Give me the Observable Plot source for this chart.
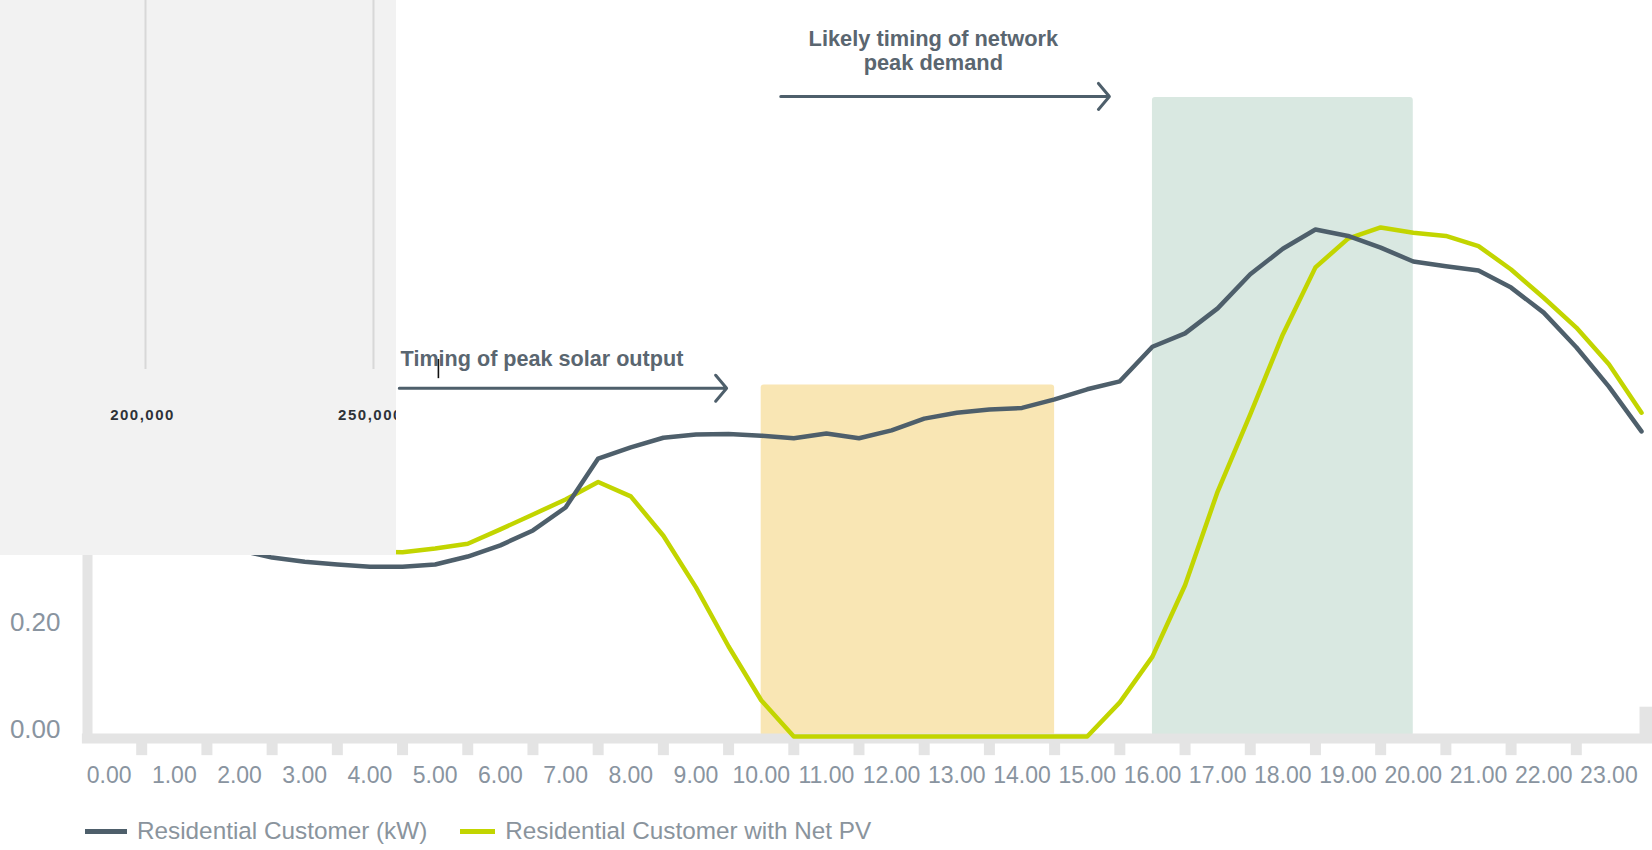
<!DOCTYPE html>
<html>
<head>
<meta charset="utf-8">
<script src="https://cdn.jsdelivr.net/npm/d3@7"></script>
<script src="https://cdn.jsdelivr.net/npm/@observablehq/plot@0.6"></script>
<style>
  body { margin: 0; background: #ffffff; }
  #wrap { position: relative; width: 1652px; height: 850px; overflow: hidden; font-family: "Liberation Sans", Arial, sans-serif; }
  #main { position: absolute; left: 0; top: 0; }
  #panel { position: absolute; left: 0; top: 0; }
  #legend { position: absolute; left: 85px; top: 817px; display: flex; align-items: center; font-size: 24.3px; color: #8a949d; white-space: nowrap; }
  #legend .sw { display: inline-block; height: 5px; margin-right: 10px; }
</style>
</head>
<body>
<div id="wrap">
  <div id="main"></div>
  <div id="legend"></div>
  <div id="panel"></div>
</div>
<script>
// Time of day, half-hourly (hours)
const hours = [0, 0.5, 1, 1.5, 2, 2.5, 3, 3.5, 4, 4.5, 5, 5.5, 6, 6.5, 7, 7.5, 8, 8.5, 9, 9.5,
  10, 10.5, 11, 11.5, 12, 12.5, 13, 13.5, 14, 14.5, 15, 15.5, 16, 16.5, 17, 17.5, 18, 18.5, 19, 19.5,
  20, 20.5, 21, 21.5, 22, 22.5, 23, 23.5, 24];

// Average residential demand (kW)
const residential = [0.52, 0.47, 0.43, 0.40, 0.372, 0.35, 0.336, 0.328, 0.323, 0.319, 0.319, 0.323,
  0.338, 0.359, 0.387, 0.430, 0.522, 0.543, 0.561, 0.567, 0.568, 0.565, 0.560, 0.569, 0.560, 0.575,
  0.597, 0.608, 0.614, 0.617, 0.633, 0.652, 0.667, 0.732, 0.757, 0.804, 0.868, 0.916, 0.952, 0.940,
  0.918, 0.892, 0.883, 0.875, 0.843, 0.796, 0.731, 0.657, 0.573];

// Residential customer demand net of rooftop PV (kW)
const residentialNetPV = [0.55, 0.50, 0.46, 0.43, 0.405, 0.385, 0.37, 0.36, 0.352, 0.347, 0.346, 0.353,
  0.362, 0.389, 0.417, 0.445, 0.478, 0.451, 0.377, 0.280, 0.169, 0.068, 0, 0, 0, 0,
  0, 0, 0, 0, 0, 0, 0.064, 0.150, 0.284, 0.460, 0.605, 0.755, 0.881, 0.935,
  0.956, 0.946, 0.940, 0.921, 0.877, 0.824, 0.768, 0.699, 0.608];

// Category labels shown under each hour
const hourLabels = ["0.00", "1.00", "2.00", "3.00", "4.00", "5.00", "6.00", "7.00", "8.00", "9.00",
  "10.00", "11.00", "12.00", "13.00", "14.00", "15.00", "16.00", "17.00", "18.00", "19.00",
  "20.00", "21.00", "22.00", "23.00"];

const yTicks = [0, 0.2, 0.4, 0.6, 0.8, 1.0, 1.2];

// Highlighted periods
const shadeNames = ["Peak solar output", "Network peak demand"];
const shadeStart = [10.5, 16.5];
const shadeEnd = [15.0, 20.5];
const shadeTop = [0.66, 1.2];
const shadeColors = ["#f9e6b4", "#d9e8e1"];

// Annotation arrows and their captions
const arrowStart = [4.95, 10.8];
const arrowEnd = [9.97, 15.84];
const arrowLevel = [0.654, 1.202];
const solarNote = "Timing of peak solar output";
const networkNote = "Likely timing of network\npeak demand";
const noteHour = [4.97, 13.14];
const noteLevel = [0.708, 1.289];

// Overlaid panel axis values
const panelTicks = [200000, 250000];

const seriesNames = ["Residential Customer (kW)", "Residential Customer with Net PV"];
const seriesColors = ["#4e5f6b", "#c2d500"];

const slate = "#4e5f6b";
const axisGrey = "#e4e4e4";
const labelGrey = "#8994a0";
const fontStack = "'Liberation Sans', Arial, sans-serif";

const demand = hours.map((h, i) => ({hour: h, value: residential[i]}));
const netDemand = hours.map((h, i) => ({hour: h, value: residentialNetPV[i]}));
const shades = shadeNames.map((n, i) => ({name: n, start: shadeStart[i], end: shadeEnd[i], top: shadeTop[i], color: shadeColors[i]}));
const arrows = arrowStart.map((s, i) => ({x1: s, x2: arrowEnd[i], y: arrowLevel[i]}));
const boundaries = d3.range(1, 24);
const labelPositions = hourLabels.map((_, i) => i + 0.5);

const chart = Plot.plot({
  width: 1652,
  height: 800,
  marginLeft: 76,
  marginRight: 11,
  marginTop: 97,
  marginBottom: 64,
  style: {fontFamily: fontStack, background: "transparent", overflow: "visible"},
  x: {type: "linear", domain: [0, 24]},
  y: {domain: [0, 1.2]},
  marks: [
    Plot.rect(shades, {x1: "start", x2: "end", y1: 0, y2: "top", fill: "color", rx: 3}),
    // axis lines and category ticks
    Plot.ruleX([0], {y1: 0, y2: 1.2, stroke: axisGrey, strokeWidth: 10, dx: 11}),
    Plot.ruleX(boundaries, {y1: 0, y2: -0.036, stroke: axisGrey, strokeWidth: 11}),
    Plot.ruleX([24], {y1: -0.004, y2: 0.055, stroke: axisGrey, strokeWidth: 13, dx: 4.5}),
    Plot.ruleY([0], {x1: 0.09, x2: 24.17, stroke: axisGrey, strokeWidth: 10, dy: 2}),
    // tick labels
    Plot.axisX(labelPositions, {tickSize: 0, tickPadding: 30, tickFormat: d => hourLabels[Math.floor(d)], fontSize: 23, color: labelGrey}),
    Plot.axisY(yTicks, {tickSize: 0, tickPadding: 16, tickFormat: d3.format(".2f"), fontSize: 26, color: labelGrey, dy: -7}),
    // demand series
    Plot.line(netDemand, {x: "hour", y: "value", stroke: seriesColors[1], strokeWidth: 4.5}),
    Plot.line(demand, {x: "hour", y: "value", stroke: seriesColors[0], strokeWidth: 4.5}),
    // annotations
    Plot.arrow(arrows, {x1: "x1", x2: "x2", y1: "y", y2: "y", stroke: slate, strokeWidth: 3, headLength: 8.5, headAngle: 100}),
    Plot.text([solarNote], {x: noteHour[0], y: noteLevel[0], text: d => d, textAnchor: "start", lineAnchor: "middle", fontSize: 21.6, fontWeight: "bold", fill: "#5a6670"}),
    Plot.text([networkNote], {x: noteHour[1], y: noteLevel[1], text: d => d, textAnchor: "middle", lineAnchor: "middle", fontSize: 21.8, fontWeight: "bold", fill: "#5a6670", lineHeight: 1.13}),
    // text caret left in the caption
    Plot.ruleX([5.55], {y1: 0.672, y2: 0.708, stroke: "#111", strokeWidth: 1.6})
  ]
});
document.getElementById("main").appendChild(chart);

// Legend
const legend = document.getElementById("legend");
seriesNames.forEach((name, i) => {
  const item = document.createElement("span");
  item.style.display = "inline-flex";
  item.style.alignItems = "center";
  item.style.marginRight = i === 0 ? "33px" : "0";
  const sw = document.createElement("span");
  sw.className = "sw";
  sw.style.width = i === 0 ? "42px" : "35px";
  sw.style.background = seriesColors[i];
  item.appendChild(sw);
  const label = document.createElement("span");
  label.textContent = name;
  item.appendChild(label);
  legend.appendChild(item);
});

// Overlaid panel from a companion chart
const panel = Plot.plot({
  width: 396,
  height: 555,
  marginLeft: 0,
  marginRight: 0,
  marginTop: 0,
  marginBottom: 186,
  style: {background: "#f2f2f2", overflow: "hidden", fontFamily: fontStack},
  x: {domain: [168200, 255050]},
  marks: [
    Plot.gridX(panelTicks, {stroke: "#d8d8d8", strokeOpacity: 1, strokeWidth: 2}),
    Plot.axisX(panelTicks, {tickSize: 0, tickPadding: 40, tickFormat: d3.format(","), fontSize: 15, fontWeight: "bold", color: "#2e3238", dx: -3})
  ]
});
document.getElementById("panel").appendChild(panel);
panel.querySelectorAll("text").forEach(t => t.setAttribute("letter-spacing", "1.5"));
</script>
</body>
</html>
